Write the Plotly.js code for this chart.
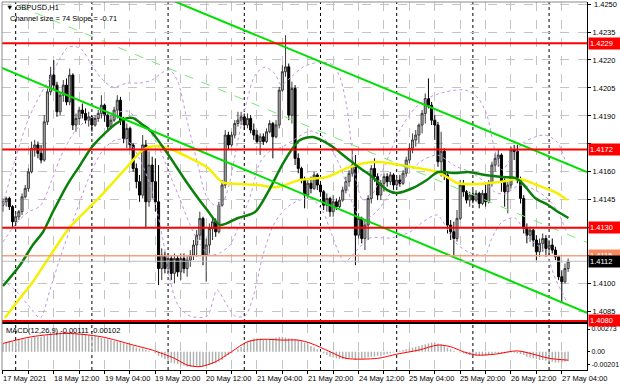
<!DOCTYPE html>
<html><head><meta charset="utf-8">
<script src="https://cdn.plot.ly/plotly-3.0.1.min.js"></script>
<style>html,body{margin:0;padding:0;background:#fff}#chart{width:620px;height:388px}</style>
</head><body><div id="chart"></div>
<script>
// ---- hourly bars GBPUSD H1 (first bar 17 May 20:00, index 0 = 18 May 00:00)
const open = [1.41421,1.41439,1.41457,1.41413,1.41332,1.41359,1.41386,1.41466,1.41511,1.41600,
1.41726,1.41744,1.41699,1.41663,1.41868,1.42029,1.42119,1.42065,1.41922,1.42011,
1.42065,1.41975,1.42119,1.41851,1.41886,1.41931,1.41913,1.41877,1.41895,1.41851,
1.41886,1.41913,1.41957,1.41904,1.41842,1.41877,1.41931,1.41984,1.41877,1.41779,
1.41833,1.41744,1.41618,1.41547,1.41475,1.41744,1.41439,1.41636,1.41547,1.41439,
1.41081,1.41153,1.41081,1.41135,1.41055,1.41135,1.41063,1.41135,1.41081,1.41126,
1.41153,1.41207,1.41260,1.41350,1.41153,1.41207,1.41296,1.41332,1.41278,1.41421,
1.41529,1.41797,1.41744,1.41797,1.41859,1.41877,1.41895,1.41851,1.41886,1.41824,
1.41797,1.41762,1.41788,1.41762,1.41815,1.41859,1.41788,1.41851,1.42038,1.42137,
1.42163,1.41904,1.42047,1.41672,1.41618,1.41556,1.41475,1.41538,1.41511,1.41583,
1.41529,1.41493,1.41421,1.41457,1.41386,1.41439,1.41413,1.41448,1.41502,1.41547,
1.41592,1.41636,1.41260,1.41350,1.41242,1.41314,1.41457,1.41618,1.41574,1.41475,
1.41538,1.41574,1.41547,1.41583,1.41529,1.41556,1.41538,1.41592,1.41663,1.41726,
1.41771,1.41797,1.41851,1.41913,1.41993,1.41957,1.41877,1.41851,1.41654,1.41710,
1.41583,1.41314,1.41278,1.41242,1.41350,1.41529,1.41493,1.41448,1.41475,1.41448,
1.41484,1.41430,1.41484,1.41439,1.41538,1.41636,1.41672,1.41690,1.41547,1.41493,
1.41529,1.41717,1.41710,1.41556,1.41457,1.41296,1.41260,1.41287,1.41234,1.41171,
1.41216,1.41242,1.41189,1.41207,1.41180,1.41144,1.41037,1.41010,1.41081];
const high = [1.41457,1.41466,1.41466,1.41421,1.41377,1.41395,1.41484,1.41529,1.41618,1.41762,
1.41771,1.41762,1.41744,1.41904,1.42047,1.42163,1.42199,1.42083,1.42029,1.42092,
1.42101,1.42154,1.42128,1.41913,1.41949,1.41966,1.41940,1.41922,1.41904,1.41904,
1.41931,1.42011,1.41966,1.41913,1.41904,1.41949,1.42011,1.42002,1.41895,1.41859,
1.41842,1.41753,1.41645,1.41583,1.41797,1.41771,1.41710,1.41681,1.41672,1.41636,
1.41189,1.41171,1.41162,1.41153,1.41162,1.41153,1.41162,1.41162,1.41153,1.41180,
1.41234,1.41287,1.41386,1.41359,1.41242,1.41323,1.41359,1.41350,1.41439,1.41556,
1.41824,1.41815,1.41815,1.41877,1.41922,1.41922,1.41913,1.41913,1.41904,1.41859,
1.41824,1.41806,1.41806,1.41833,1.41877,1.41868,1.41877,1.42056,1.42172,1.42333,
1.42181,1.42083,1.42065,1.41699,1.41627,1.41574,1.41556,1.41574,1.41600,1.41592,
1.41547,1.41502,1.41484,1.41466,1.41475,1.41457,1.41466,1.41520,1.41574,1.41609,
1.41717,1.41690,1.41377,1.41359,1.41341,1.41475,1.41636,1.41672,1.41592,1.41556,
1.41592,1.41592,1.41600,1.41592,1.41574,1.41583,1.41609,1.41681,1.41753,1.41806,
1.41824,1.41859,1.41931,1.42020,1.42101,1.41975,1.41904,1.41868,1.41815,1.41726,
1.41592,1.41341,1.41332,1.41395,1.41556,1.41556,1.41502,1.41493,1.41502,1.41502,
1.41493,1.41502,1.41538,1.41556,1.41654,1.41699,1.41717,1.41699,1.41565,1.41547,
1.41735,1.41744,1.41744,1.41574,1.41475,1.41323,1.41305,1.41296,1.41260,1.41242,
1.41269,1.41260,1.41234,1.41242,1.41198,1.41153,1.41072,1.41108,1.41135];
const low = [1.41386,1.41413,1.41395,1.41305,1.41314,1.41341,1.41368,1.41457,1.41493,1.41592,
1.41681,1.41672,1.41645,1.41654,1.41851,1.42011,1.42038,1.41895,1.41904,1.41975,
1.41957,1.41957,1.41824,1.41815,1.41851,1.41886,1.41859,1.41842,1.41815,1.41842,
1.41868,1.41886,1.41868,1.41815,1.41833,1.41868,1.41886,1.41851,1.41753,1.41726,
1.41717,1.41600,1.41511,1.41439,1.41457,1.41296,1.41413,1.41457,1.41386,1.40992,
1.41019,1.41055,1.41055,1.41019,1.41001,1.41037,1.41019,1.41055,1.41037,1.41090,
1.41126,1.41144,1.41234,1.41099,1.41010,1.41162,1.41234,1.41251,1.41269,1.41413,
1.41511,1.41717,1.41735,1.41779,1.41842,1.41851,1.41824,1.41833,1.41806,1.41771,
1.41753,1.41690,1.41744,1.41753,1.41806,1.41672,1.41779,1.41833,1.42029,1.42110,
1.41877,1.41859,1.41636,1.41592,1.41538,1.41404,1.41457,1.41484,1.41502,1.41502,
1.41466,1.41395,1.41386,1.41359,1.41359,1.41395,1.41404,1.41439,1.41484,1.41520,
1.41574,1.41099,1.41242,1.41216,1.41180,1.41234,1.41430,1.41547,1.41448,1.41448,
1.41493,1.41520,1.41529,1.41502,1.41502,1.41520,1.41529,1.41574,1.41645,1.41699,
1.41735,1.41753,1.41806,1.41859,1.41940,1.41851,1.41771,1.41627,1.41574,1.41556,
1.41269,1.41234,1.41153,1.41225,1.41341,1.41466,1.41430,1.41413,1.41430,1.41439,
1.41404,1.41421,1.41413,1.41430,1.41520,1.41600,1.41627,1.41493,1.41413,1.41377,
1.41511,1.41663,1.41538,1.41430,1.41269,1.41216,1.41225,1.41198,1.41126,1.41144,
1.41171,1.41144,1.41153,1.41162,1.41126,1.41019,1.40903,1.41001,1.41063];
const close = [1.41439,1.41457,1.41413,1.41332,1.41359,1.41386,1.41466,1.41511,1.41600,1.41726,
1.41744,1.41699,1.41663,1.41868,1.42029,1.42119,1.42065,1.41922,1.42011,1.42065,
1.41975,1.42119,1.41851,1.41886,1.41931,1.41913,1.41877,1.41895,1.41851,1.41886,
1.41913,1.41957,1.41904,1.41842,1.41877,1.41931,1.41984,1.41877,1.41779,1.41833,
1.41744,1.41618,1.41547,1.41475,1.41744,1.41439,1.41636,1.41547,1.41439,1.41081,
1.41153,1.41081,1.41135,1.41055,1.41135,1.41063,1.41135,1.41081,1.41126,1.41153,
1.41207,1.41260,1.41350,1.41153,1.41207,1.41296,1.41332,1.41278,1.41421,1.41529,
1.41797,1.41744,1.41797,1.41859,1.41877,1.41895,1.41851,1.41886,1.41824,1.41797,
1.41762,1.41788,1.41762,1.41815,1.41859,1.41788,1.41851,1.42038,1.42137,1.42163,
1.41904,1.42047,1.41672,1.41618,1.41556,1.41475,1.41538,1.41511,1.41583,1.41529,
1.41493,1.41421,1.41457,1.41386,1.41439,1.41413,1.41448,1.41502,1.41547,1.41592,
1.41636,1.41260,1.41350,1.41242,1.41314,1.41457,1.41618,1.41574,1.41475,1.41538,
1.41574,1.41547,1.41583,1.41529,1.41556,1.41538,1.41592,1.41663,1.41726,1.41771,
1.41797,1.41851,1.41913,1.41993,1.41957,1.41877,1.41851,1.41654,1.41710,1.41583,
1.41314,1.41278,1.41242,1.41350,1.41529,1.41493,1.41448,1.41475,1.41448,1.41484,
1.41430,1.41484,1.41439,1.41538,1.41636,1.41672,1.41690,1.41547,1.41493,1.41529,
1.41717,1.41710,1.41556,1.41457,1.41296,1.41260,1.41287,1.41234,1.41171,1.41216,
1.41242,1.41189,1.41207,1.41180,1.41144,1.41037,1.41010,1.41081,1.41120];
const firstBarIndex = -4;

// ---- moving averages (bar index / price)
const maGreenX = [-4.0,1.4,5.4,8.6,11.7,16.2,20.3,24.0,27.5,31.9,35.1,37.0,40.1,42.3,47.7,54.0,60.3,64.4,70.0,75.4,79.5,83.9,87.3,89.5,93.6,99.0,104.3,108.4,111.6,117.0,120.1,125.1,129.5,133.0,138.4,142.5,147.8,153.2,157.3,159.5,163.6,167.7,170.9,174.1];
const maGreenY = [1.40987,1.41100,1.41207,1.41277,1.41384,1.41529,1.41636,1.41733,1.41797,1.41862,1.41888,1.41888,1.41851,1.41824,1.41701,1.41540,1.41395,1.41315,1.41352,1.41384,1.41492,1.41636,1.41728,1.41770,1.41787,1.41744,1.41674,1.41620,1.41583,1.41502,1.41486,1.41513,1.41556,1.41599,1.41593,1.41599,1.41583,1.41572,1.41567,1.41540,1.41459,1.41422,1.41384,1.41352];
const maYellowX = [-3.4,1.4,5.4,10.8,17.1,26.5,35.1,40.1,44.5,49.5,54.3,60.6,65.0,70.0,76.3,82.3,89.5,98.0,104.3,110.0,114.7,121.0,126.4,132.7,136.0,139.0,145.3,152.5,158.8,164.2,170.5,173.6];
const maYellowY = [1.40816,1.40923,1.41009,1.41148,1.41304,1.41465,1.41626,1.41717,1.41738,1.41717,1.41679,1.41620,1.41545,1.41534,1.41529,1.41518,1.41556,1.41572,1.41620,1.41647,1.41652,1.41636,1.41620,1.41600,1.41570,1.41540,1.41534,1.41545,1.41561,1.41529,1.41486,1.41449];

// ---- bands (dotted)
const bbUpX = [-4.0,-0.2,3.9,7.7,11.4,14.0,16.5,20.3,23.4,26.6,30.6,35.1,39.2,42.9,46.4,48.6,51.1,54.3,57.4,59.9,62.5,64.7,67.2,70.0,72.9,75.4,78.5,81.7,83.6,86.4,90.5,95.8,99.9,102.1,104.3,105.9,107.5,109.4,112.2,116.3,121.0,125.8,130.5,135.2,141.5,145.6,148.4,150.9,153.2,155.7,159.8,163.6,166.7,170.5,173.6];
const bbUpY = [1.41422,1.41663,1.41878,1.42012,1.42119,1.42210,1.42269,1.42264,1.42189,1.42108,1.42055,1.42076,1.42076,1.42092,1.42135,1.42146,1.42082,1.41851,1.41636,1.41475,1.41422,1.41420,1.41529,1.41770,1.41985,1.42119,1.42162,1.42125,1.42066,1.42103,1.42162,1.42189,1.42173,1.42108,1.41948,1.41717,1.41529,1.41449,1.41475,1.41636,1.41824,1.41942,1.42001,1.42028,1.42039,1.41996,1.41905,1.41717,1.41610,1.41663,1.41754,1.41787,1.41797,1.41760,1.41636];
const bbMidX = [-4.0,-0.2,3.9,7.7,11.4,14.0,18.7,23.4,27.5,31.3,35.1,39.2,42.3,45.5,48.6,51.7,54.9,58.0,61.2,64.3,67.5,70.6,73.8,77.0,80.1,83.9,88.0,92.7,96.5,99.6,102.8,105.9,109.1,113.2,117.9,122.6,127.3,132.7,138.4,143.1,147.8,150.9,154.1,158.8,163.6,167.7,170.8,173.6];
const bbMidY = [1.41223,1.41315,1.41384,1.41416,1.41556,1.41674,1.41819,1.41888,1.41905,1.41915,1.41926,1.41867,1.41813,1.41717,1.41583,1.41454,1.41315,1.41213,1.41154,1.41164,1.41207,1.41325,1.41465,1.41652,1.41711,1.41733,1.41776,1.41819,1.41792,1.41717,1.41604,1.41438,1.41341,1.41379,1.41481,1.41567,1.41652,1.41690,1.41631,1.41599,1.41545,1.41492,1.41481,1.41529,1.41502,1.41454,1.41384,1.41272];
const bbLoX = [-4.0,-0.2,3.9,7.7,10.8,14.0,18.7,23.4,27.5,31.3,35.1,39.2,42.3,44.8,47.0,48.6,51.1,54.9,60.3,63.4,66.5,69.1,72.2,74.7,77.9,81.7,86.4,92.7,96.5,99.6,102.1,103.7,107.5,111.6,117.9,124.2,128.3,132.7,138.4,142.5,147.8,150.0,153.2,157.3,161.4,166.7,169.9,173.6];
const bbLoY = [1.41020,1.40966,1.40885,1.40816,1.40966,1.41138,1.41368,1.41583,1.41717,1.41770,1.41770,1.41663,1.41529,1.41368,1.41180,1.41020,1.40885,1.40826,1.40826,1.40966,1.40885,1.40826,1.40826,1.40923,1.41154,1.41331,1.41422,1.41459,1.41395,1.41261,1.41154,1.41116,1.41180,1.41245,1.41245,1.41277,1.41331,1.41368,1.41223,1.41170,1.41154,1.41245,1.41331,1.41352,1.41245,1.41170,1.41030,1.40901];

// ---- regression channel (end points)
const chanX = [-4.31, 179.94];
const chanUpperY = [1.42897, 1.41599];
const chanMidY = [1.42527, 1.41221];
const chanLowerY = [1.42157, 1.40843];

// ---- horizontal levels
const redLevels = [1.4229, 1.4172, 1.4130, 1.4080];
const orangeLevel = 1.4115;
const bidLevel = 1.4112;

// ---- MACD(12,26,9)
const macdHist = [0.0010,0.0011,0.0012,0.0012,0.0013,
0.0014,0.0015,0.0015,0.0016,0.0017,0.0018,0.0018,0.0018,0.0019,0.0020,
0.0021,0.0022,0.0023,0.0023,0.0024,0.0024,0.0024,0.0023,0.0023,0.0022,0.0022,
0.0021,0.0020,0.0020,0.0019,0.0018,
0.0017,0.0016,0.0015,0.0014,0.0013,0.0012,0.0011,0.0010,0.0009,
0.0008,0.0007,0.0005,0.0004,0.0004,
0.0002,0.0001,0.0000,-0.0002,
-0.0005,-0.0007,-0.0009,-0.0011,-0.0013,-0.0014,-0.0015,-0.0016,
-0.0017,-0.0018,-0.0018,-0.0018,-0.0017,-0.0018,-0.0018,-0.0017,
-0.0016,-0.0015,-0.0014,-0.0012,-0.0010,-0.0006,-0.0004,-0.0002,0.0000,
0.0003,0.0006,0.0009,0.0012,0.0014,0.0016,
0.0016,0.0016,0.0015,0.0015,0.0015,0.0016,0.0017,0.0018,0.0018,0.0017,0.0016,0.0016,0.0015,0.0014,0.0013,0.0011,0.0009,
0.0007,0.0005,0.0003,0.0001,
-0.0002,-0.0004,-0.0006,-0.0007,-0.0008,-0.0009,-0.0009,
-0.0009,-0.0008,-0.0008,-0.0010,-0.0009,-0.0009,-0.0008,-0.0007,-0.0006,-0.0006,-0.0005,-0.0005,-0.0004,-0.0003,-0.0002,-0.0001,
0.0000,0.0001,0.0002,0.0003,0.0004,0.0005,0.0006,0.0007,0.0008,
0.0009,0.0010,0.0011,0.0011,0.0010,0.0009,0.0008,
0.0005,0.0003,0.0001,0.0000,-0.0001,
-0.0002,-0.0003,-0.0004,-0.0004,-0.0005,-0.0005,-0.0005,-0.0005,-0.0004,-0.0003,-0.0002,-0.0002,
-0.0002,-0.0002,-0.0001,-0.0001,-0.0001,-0.0002,-0.0003,-0.0004,
-0.0006,-0.0007,-0.0008,-0.0009,-0.0010,-0.0010,-0.0011,-0.0012,
-0.0012,-0.0013,-0.0013,-0.0013,-0.0012,-0.00111];
const macdSigX = [-4,5,16,27,37,43,50,54,58,63,68,73,78,84,89,93,99,104,114,120,127,133,137,141,145,151,158,164,168,174];
const macdSigY = [0.0010,0.0018,0.0022,0.0018,0.0008,0.0002,-0.0008,-0.0016,-0.0018,-0.0012,0.0000,0.0012,0.0015,0.0014,0.0014,0.0010,0.0000,-0.0008,-0.0008,-0.0003,0.0002,0.0008,0.0006,0.0000,-0.0004,-0.0003,0.0001,-0.0004,-0.0008,-0.00102];

// ---- axes text
const timeTickPos = [-4,12,28,44,60,76,92,108,124,140,156,172];
const timeTickText = ['17 May 2021','18 May 12:00','19 May 04:00','19 May 20:00','20 May 12:00','21 May 04:00','21 May 20:00','24 May 12:00','25 May 04:00','25 May 20:00','26 May 12:00','27 May 04:00'];
const gridPos = [-4,4,12,20,28,36,44,52,60,68,76,84,92,100,108,116,124,132,140,148,156,164,172];
const daySeparators = [0,24,48,72,96,120,144,168];
const priceTicks = [1.4250,1.4235,1.4220,1.4205,1.4190,1.4175,1.4160,1.4145,1.4130,1.4115,1.4100,1.4085];
const priceTickText = ['','1.4235','1.4220','1.4205','1.4190','','1.4160','1.4145','','','1.4100','1.4085'];
const topPriceLabel = 1.4250;
const macdTickVals = [0.00273, 0, -0.0016];
const macdTickText = ['0.00273','0.00','-0.00201'];

const FONT = 'Liberation Sans, Arial, sans-serif';
const barX = open.map((_, k) => k + firstBarIndex);
const xRange = [-4.31, 179.94];
const BB = {color:'#c095e2', width:1, dash:'dot', shape:'spline', smoothing:0.8};

const traces = [
  {type:'scatter', mode:'lines', x:bbUpX, y:bbUpY, xaxis:'x', yaxis:'y', line:BB, hoverinfo:'skip'},
  {type:'scatter', mode:'lines', x:bbMidX, y:bbMidY, xaxis:'x', yaxis:'y', line:BB, hoverinfo:'skip'},
  {type:'scatter', mode:'lines', x:bbLoX, y:bbLoY, xaxis:'x', yaxis:'y', line:BB, hoverinfo:'skip'},
  {type:'candlestick', x:barX, open:open, high:high, low:low, close:close, xaxis:'x', yaxis:'y',
   increasing:{line:{color:'#3a3a3a', width:1}, fillcolor:'#b4b4b4'},
   decreasing:{line:{color:'#000000', width:1}, fillcolor:'#000000'}, whiskerwidth:0, hoverinfo:'skip'},
  {type:'scatter', mode:'lines', x:maYellowX, y:maYellowY, xaxis:'x', yaxis:'y', line:{color:'#f5f000', width:2.5, shape:'spline', smoothing:0.8}, hoverinfo:'skip'},
  {type:'scatter', mode:'lines', x:maGreenX, y:maGreenY, xaxis:'x', yaxis:'y', line:{color:'#0a800a', width:2.5, shape:'spline', smoothing:0.8}, hoverinfo:'skip'},
  {type:'scatter', mode:'lines', x:chanX, y:chanMidY, xaxis:'x', yaxis:'y', line:{color:'#78e878', width:1, dash:'dash'}, hoverinfo:'skip'},
  {type:'scatter', mode:'lines', x:chanX, y:chanUpperY, xaxis:'x', yaxis:'y', line:{color:'#00e000', width:2}, hoverinfo:'skip'},
  {type:'scatter', mode:'lines', x:chanX, y:chanLowerY, xaxis:'x', yaxis:'y', line:{color:'#00e000', width:2}, hoverinfo:'skip'},
  {type:'bar', x:barX, y:macdHist, xaxis:'x2', yaxis:'y2', width:0.45, marker:{color:'#b0b0b0', line:{width:0}}, hoverinfo:'skip'},
  {type:'scatter', mode:'lines', x:macdSigX, y:macdSigY, xaxis:'x2', yaxis:'y2', line:{color:'#ff0000', width:1, shape:'spline', smoothing:0.8}, hoverinfo:'skip'}
];

const shapes = [];
daySeparators.forEach(d => shapes.push({type:'line', xref:'x', x0:d, x1:d, yref:'paper', y0:0, y1:1, layer:'between', line:{color:'#000', width:1, dash:'dot'}}));
redLevels.forEach(v => shapes.push({type:'line', xref:'paper', x0:0, x1:1, yref:'y', y0:v, y1:v, line:{color:'#ff0000', width:2}}));
shapes.push({type:'line', xref:'paper', x0:0, x1:1, yref:'y', y0:orangeLevel, y1:orangeLevel, line:{color:'#f6a07c', width:1.5}});
shapes.push({type:'line', xref:'paper', x0:0, x1:1, yref:'y', y0:bidLevel, y1:bidLevel, line:{color:'#bdbdbd', width:1}});
shapes.push({type:'line', xref:'paper', x0:0, x1:0, yref:'paper', y0:0, y1:1, line:{color:'#8a8a8a', width:1}});
shapes.push({type:'line', xref:'paper', x0:0, x1:1, yref:'paper', y0:1, y1:1, line:{color:'#8a8a8a', width:1}});

const priceBox = (v, bg) => ({xref:'paper', x:1, xanchor:'left', xshift:1, yref:'y', y:v, yanchor:'middle',
  text:v.toFixed(4), showarrow:false, bgcolor:bg, borderpad:1, width:29, align:'left',
  font:{family:FONT, size:7.5, color:'#ffffff'}});
const annotations = [
  ...redLevels.map(v => priceBox(v, '#ff0000')),
  priceBox(orangeLevel, '#f58a62'),
  priceBox(bidLevel, '#000000'),
  {xref:'paper', x:1, xanchor:'left', xshift:5, yref:'y', y:topPriceLabel, yanchor:'middle', showarrow:false,
   text:topPriceLabel.toFixed(4), font:{family:FONT, size:7.5, color:'#000'}},
  {xref:'paper', yref:'paper', x:0.004, y:0.986, xanchor:'left', yanchor:'middle', showarrow:false,
   text:'▼ GBPUSD,H1', font:{family:FONT, size:7.5, color:'#000'}},
  {xref:'paper', yref:'paper', x:0.0105, y:0.956, xanchor:'left', yanchor:'middle', showarrow:false,
   text:'Channel size = 74 Slope = -0.71', font:{family:FONT, size:7.5, color:'#000'}},
  {xref:'paper', yref:'paper', x:0.004, y:0.108, xanchor:'left', yanchor:'middle', showarrow:false,
   text:'MACD(12,26,9) -0.00111 -0.00102', font:{family:FONT, size:7.5, color:'#000'}},
  ...timeTickPos.map((p, k) => ({xref:'x2', x:p, yref:'paper', y:-0.0235, xanchor:'left', yanchor:'middle',
   xshift:-2, showarrow:false, text:timeTickText[k], font:{family:FONT, size:7.5, color:'#000'}}))
];

const gridStyle = {showgrid:true, gridcolor:'#c4c4c4', griddash:'dash', gridwidth:1};
const layout = {
  width:620, height:388, autosize:false,
  margin:{l:2, r:33, t:2, b:18, pad:0},
  paper_bgcolor:'#fff', plot_bgcolor:'#fff', showlegend:false,
  font:{family:FONT, size:7.5, color:'#000'},
  boxgap:0.2, boxgroupgap:0.2,
  xaxis:Object.assign({domain:[0,1], anchor:'y', range:xRange, type:'linear', tickvals:gridPos,
    showticklabels:false, ticks:'', zeroline:false, showline:true, linecolor:'#000', linewidth:2,
    rangeslider:{visible:false}, fixedrange:true}, gridStyle),
  yaxis:Object.assign({domain:[0.1304,1], anchor:'x', side:'right', range:[1.40794,1.42511],
    tickvals:priceTicks, ticktext:priceTickText, ticks:'outside', ticklen:3, tickcolor:'#000',
    tickfont:{family:FONT, size:7.5, color:'#000'}, showline:true, linecolor:'#000', linewidth:1,
    zeroline:false, fixedrange:true}, gridStyle),
  xaxis2:Object.assign({domain:[0,1], anchor:'y2', range:xRange, type:'linear', tickvals:gridPos,
    showticklabels:false, ticks:'outside', ticklen:3, tickcolor:'#000',
    showline:true, linecolor:'#000', linewidth:1, zeroline:false, fixedrange:true}, gridStyle),
  yaxis2:{domain:[0,0.125], anchor:'x2', side:'right', range:[-0.002205,0.003337],
    tickvals:macdTickVals, ticktext:macdTickText, ticks:'outside', ticklen:2, tickcolor:'#000',
    tickfont:{family:FONT, size:7, color:'#000'}, showline:true, linecolor:'#000', linewidth:1,
    showgrid:false, zeroline:false, fixedrange:true},
  shapes:shapes,
  annotations:annotations
};

Plotly.newPlot('chart', traces, layout, {staticPlot:true, displayModeBar:false});
</script>
</body></html>
